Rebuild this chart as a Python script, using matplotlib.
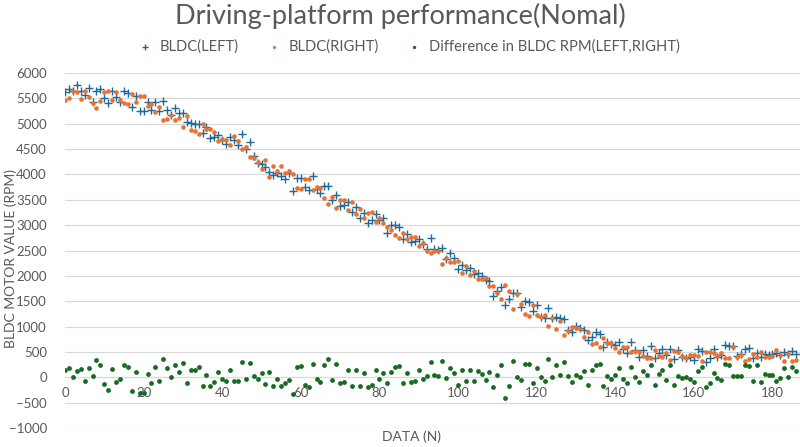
import matplotlib
matplotlib.use("Agg")
import matplotlib.pyplot as plt

# BLDC rpm readings, one per sample N = 0..186
left_rpm = [
    5617, 5683, 5637, 5762, 5650, 5564, 5710, 5432, 5650, 5683,
    5498, 5400, 5637, 5531, 5432, 5650, 5597, 5320, 5551, 5254,
    5241, 5419, 5274, 5432, 5254, 5445, 5267, 5180, 5300, 5221,
    5221, 5036, 5023, 5003, 4990, 4812, 4937, 4713, 4740, 4772,
    4673, 4607, 4740, 4673, 4588, 4792, 4510, 4640, 4366, 4221,
    4201, 4142, 4056, 3990, 4036, 3977, 3911, 4023, 3680, 3937,
    3937, 3760, 3700, 3960, 3720, 3640, 3767, 3780, 3500, 3600,
    3370, 3400, 3450, 3267, 3367, 3133, 3233, 3033, 3099, 3218,
    3100, 3132, 2848, 2996, 2996, 2970, 2720, 2818, 2670, 2690,
    2736, 2620, 2520, 2756, 2538, 2512, 2545, 2340, 2459, 2360,
    2142, 2208, 2109, 2162, 2030, 2063, 1997, 1911, 1898, 1601,
    1700, 1786, 1416, 1535, 1667, 1654, 1390, 1502, 1482, 1304,
    1416, 1185, 1170, 1363, 1172, 1185, 1160, 1140, 940, 900,
    1013, 967, 933, 740, 800, 900, 847, 600, 690, 647,
    633, 687, 560, 487, 693, 533, 400, 533, 420, 620,
    387, 480, 560, 430, 567, 367, 533, 400, 387, 400,
    333, 560, 520, 300, 380, 567, 400, 433, 633, 620,
    620, 420, 453, 560, 580, 387, 487, 400, 467, 447,
    467, 480, 433, 500, 460, 520, 453,
]

right_rpm = [
    5470, 5503, 5637, 5629, 5483, 5644, 5530, 5412, 5303, 5450,
    5631, 5653, 5470, 5631, 5465, 5417, 5397, 5587, 5438, 5554,
    5541, 5352, 5387, 5232, 5334, 5078, 5087, 5180, 5067, 5121,
    4934, 5156, 4876, 4850, 4790, 4992, 4890, 4893, 4827, 4659,
    4706, 4687, 4587, 4753, 4668, 4492, 4543, 4353, 4333, 4254,
    4114, 4275, 3943, 4170, 4069, 4157, 4031, 4070, 4013, 3737,
    3717, 3913, 3900, 3693, 3753, 3740, 3534, 3413, 3547, 3347,
    3490, 3487, 3303, 3447, 3220, 3313, 3146, 3233, 3252, 3071,
    3133, 3052, 2968, 2896, 2796, 2750, 2840, 2731, 2757, 2770,
    2589, 2653, 2500, 2456, 2485, 2492, 2225, 2360, 2279, 2280,
    2295, 2061, 2189, 2015, 2097, 1930, 1930, 1964, 1798, 1801,
    1653, 1553, 1816, 1702, 1347, 1641, 1443, 1249, 1215, 1424,
    1236, 1185, 1237, 1010, 1172, 952, 1107, 840, 920, 1000,
    966, 954, 800, 893, 653, 667, 594, 780, 670, 680,
    580, 507, 593, 607, 493, 520, 500, 413, 373, 387,
    534, 413, 407, 483, 334, 520, 500, 420, 387, 433,
    433, 427, 320, 500, 500, 480, 420, 480, 380, 387,
    600, 400, 433, 313, 360, 467, 400, 500, 400, 394,
    420, 547, 446, 320, 460, 320, 333,
]

diff_rpm = [
    147, 180, 0, 133, 167, -80, 180, 20, 347, 233,
    -133, -253, 167, -100, -33, 233, 200, -267, 113, -300,
    -300, 67, -113, 200, -80, 367, 180, 0, 233, 100,
    287, -120, 147, 153, 200, -180, 47, -180, -87, 113,
    -33, -80, 153, -80, -80, 300, -33, 287, 33, -33,
    87, -133, 113, -180, -33, -180, -120, -47, -333, 200,
    220, -153, -200, 267, -33, -100, 233, 367, -47, 253,
    -120, -87, 147, -180, 147, -180, 87, -200, -153, 147,
    -33, 80, -120, 100, 200, 220, -120, 87, -87, -80,
    147, -33, 20, 300, 53, 20, 320, -20, 180, 80,
    -153, 147, -80, 147, -67, 133, 67, -53, 100, -200,
    47, 233, -400, -167, 320, 13, -53, 253, 267, -120,
    180, 0, -67, 353, 0, 233, 53, 300, 20, -100,
    47, 13, 133, -153, 147, 233, 253, -180, 20, -33,
    53, 180, -33, -120, 200, 13, -100, 120, 47, 233,
    -147, 67, 153, -53, 233, -153, 33, -20, 0, -33,
    -100, 133, 200, -200, -120, 87, -20, -47, 253, 233,
    20, 20, 20, 247, 220, -80, 233, -100, 67, 53,
    47, -67, -13, 180, 0, 200, 120,
]

samples = list(range(len(left_rpm)))
x_ticks = [0, 20, 40, 60, 80, 100, 120, 140, 160, 180]
y_ticks = [-1000, -500, 0, 500, 1000, 1500, 2000, 2500, 3000, 3500, 4000, 4500, 5000, 5500, 6000]

plt.rcParams["font.family"] = ["Lato", "DejaVu Sans"]
text_grey = "#595959"

fig = plt.figure(figsize=(8, 4.47), dpi=100)
ax = fig.add_axes([65 / 800, 1 - 428 / 447, 735 / 800, 355 / 447])

ax.scatter(samples, left_rpm, marker="+", s=36, linewidths=1.0, color="#1f6a96",
           label="BLDC(LEFT)", zorder=3)
ax.scatter(samples, right_rpm, marker="o", s=11, linewidths=0, color="#e97132",
           label="BLDC(RIGHT)", zorder=3)
ax.scatter(samples, diff_rpm, marker="o", s=12, linewidths=0, color="#196b24",
           label="Difference in BLDC RPM(LEFT,RIGHT)", zorder=3)

ax.set_xlim(0, 187)
ax.set_ylim(-1000, 6000)
ax.set_xticks(x_ticks)
ax.set_yticks(y_ticks)
ax.grid(axis="y", color="#d9d9d9", linewidth=0.9)
ax.set_axisbelow(True)

for side in ["left", "right", "top"]:
    ax.spines[side].set_visible(False)
ax.spines["bottom"].set_position(("data", 0))
ax.spines["bottom"].set_color("#d9d9d9")
ax.tick_params(axis="both", length=0, labelsize=9.5, labelcolor=text_grey)
ax.tick_params(axis="x", pad=7)
ax.tick_params(axis="y", pad=13)

fig.text(0.5, 1 - 16 / 447, "Driving-platform performance(Nomal)", ha="center", va="center",
         fontsize=19.5, color=text_grey)
fig.text(411 / 800, 1 - 437 / 447, "DATA (N)", ha="center", va="center",
         fontsize=10, color=text_grey)
fig.text(11 / 800, 1 - 258 / 447, "BLDC MOTOR VALUE (RPM)", ha="center", va="center",
         rotation=90, fontsize=10, color=text_grey)

fig.legend(loc="center", bbox_to_anchor=(405 / 800, 1 - 47 / 447), ncol=3, frameon=False,
           fontsize=10.6, labelcolor=text_grey, handletextpad=0.0, columnspacing=1.4,
           markerscale=0.7)

fig.savefig("out.png", dpi=100)
